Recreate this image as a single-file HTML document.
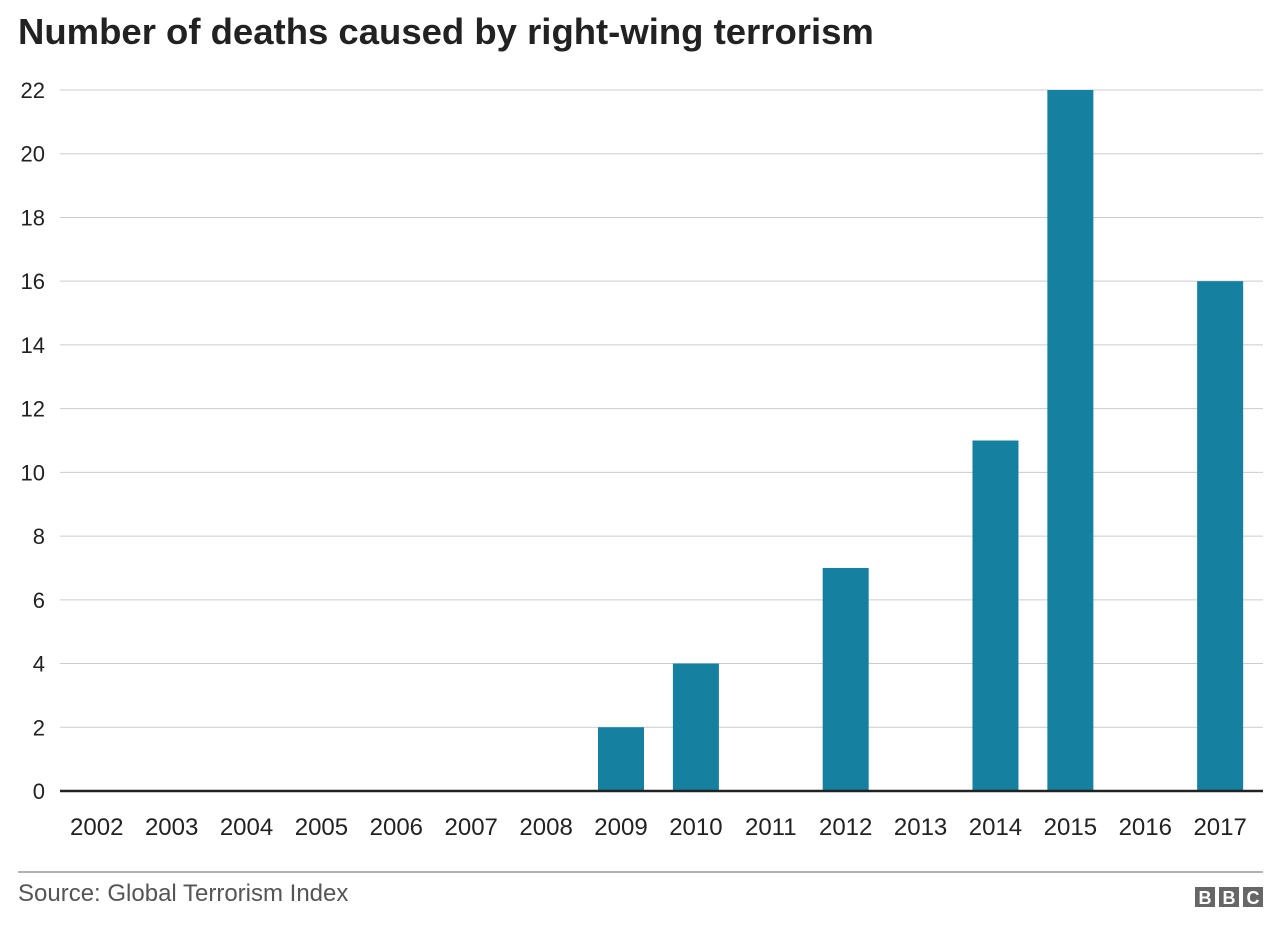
<!DOCTYPE html>
<html><head><meta charset="utf-8"><style>
body{margin:0;background:#fff;font-family:"Liberation Sans",Arial,sans-serif;}
svg text{font-family:"Liberation Sans",Arial,sans-serif;}
</style></head><body>
<svg id="chart" width="1280" height="923" xmlns="http://www.w3.org/2000/svg">
<text x="18" y="44" font-size="36.5" font-weight="bold" fill="#222">Number of deaths caused by right-wing terrorism</text>
<g id="grid"></g><g id="bars"></g><g id="xlabels"></g>
<line x1="60" x2="1263" y1="791" y2="791" stroke="#222" stroke-width="2.5"/>
<line x1="18" x2="1263" y1="872" y2="872" stroke="#999" stroke-width="1.5"/>
<text x="18" y="901" font-size="24" fill="#555">Source: Global Terrorism Index</text>
<g>
<rect x="1195" y="887" width="20" height="20" fill="#666"/><rect x="1219" y="887" width="20" height="20" fill="#666"/><rect x="1243" y="887" width="20" height="20" fill="#666"/>
<text x="1205" y="904" font-size="18" font-weight="bold" fill="#fff" text-anchor="middle">B</text>
<text x="1229" y="904" font-size="18" font-weight="bold" fill="#fff" text-anchor="middle">B</text>
<text x="1253" y="904" font-size="18" font-weight="bold" fill="#fff" text-anchor="middle">C</text>
</g>
</svg>
<script>
const years=["2002","2003","2004","2005","2006","2007","2008","2009","2010","2011","2012","2013","2014","2015","2016","2017"];
const deaths=[0,0,0,0,0,0,0,2,4,0,7,0,11,22,0,16];
const yTicks=[0,2,4,6,8,10,12,14,16,18,20,22];
const NS="http://www.w3.org/2000/svg";
const x0=59.3,x1=1257.6,gridR=1263,yBase=791,yTop=90,yMax=22;
const band=(x1-x0)/years.length;
const xC=i=>x0+band*(i+0.5);
const yS=v=>yBase-(v/yMax)*(yBase-yTop);
function mk(t,a){const e=document.createElementNS(NS,t);for(const k in a)e.setAttribute(k,a[k]);return e;}
const grid=document.getElementById('grid');
yTicks.forEach(v=>{
 if(v>0){const l=mk('line',{x1:60,x2:gridR,y1:yS(v),y2:yS(v),stroke:'#ccc','stroke-width':1});
 
 
 grid.appendChild(l);}
 const t=mk('text',{x:45,y:yS(v)+8,'font-size':22,fill:'#222','text-anchor':'end'});
 t.textContent=v;
 
 
 grid.appendChild(t);
});
const bars=document.getElementById('bars'),xl=document.getElementById('xlabels');
years.forEach((y,i)=>{
 const v=deaths[i];
 if(v>0){const r=mk('rect',{x:xC(i)-23,y:yS(v),width:46,height:yBase-yS(v),fill:'#1580a0'});
 
 
 bars.appendChild(r);}
 const t=mk('text',{x:xC(i),y:835,'font-size':24,fill:'#222','text-anchor':'middle'});
 t.textContent=y;
 
 
 xl.appendChild(t);
});
</script>
</body></html>
